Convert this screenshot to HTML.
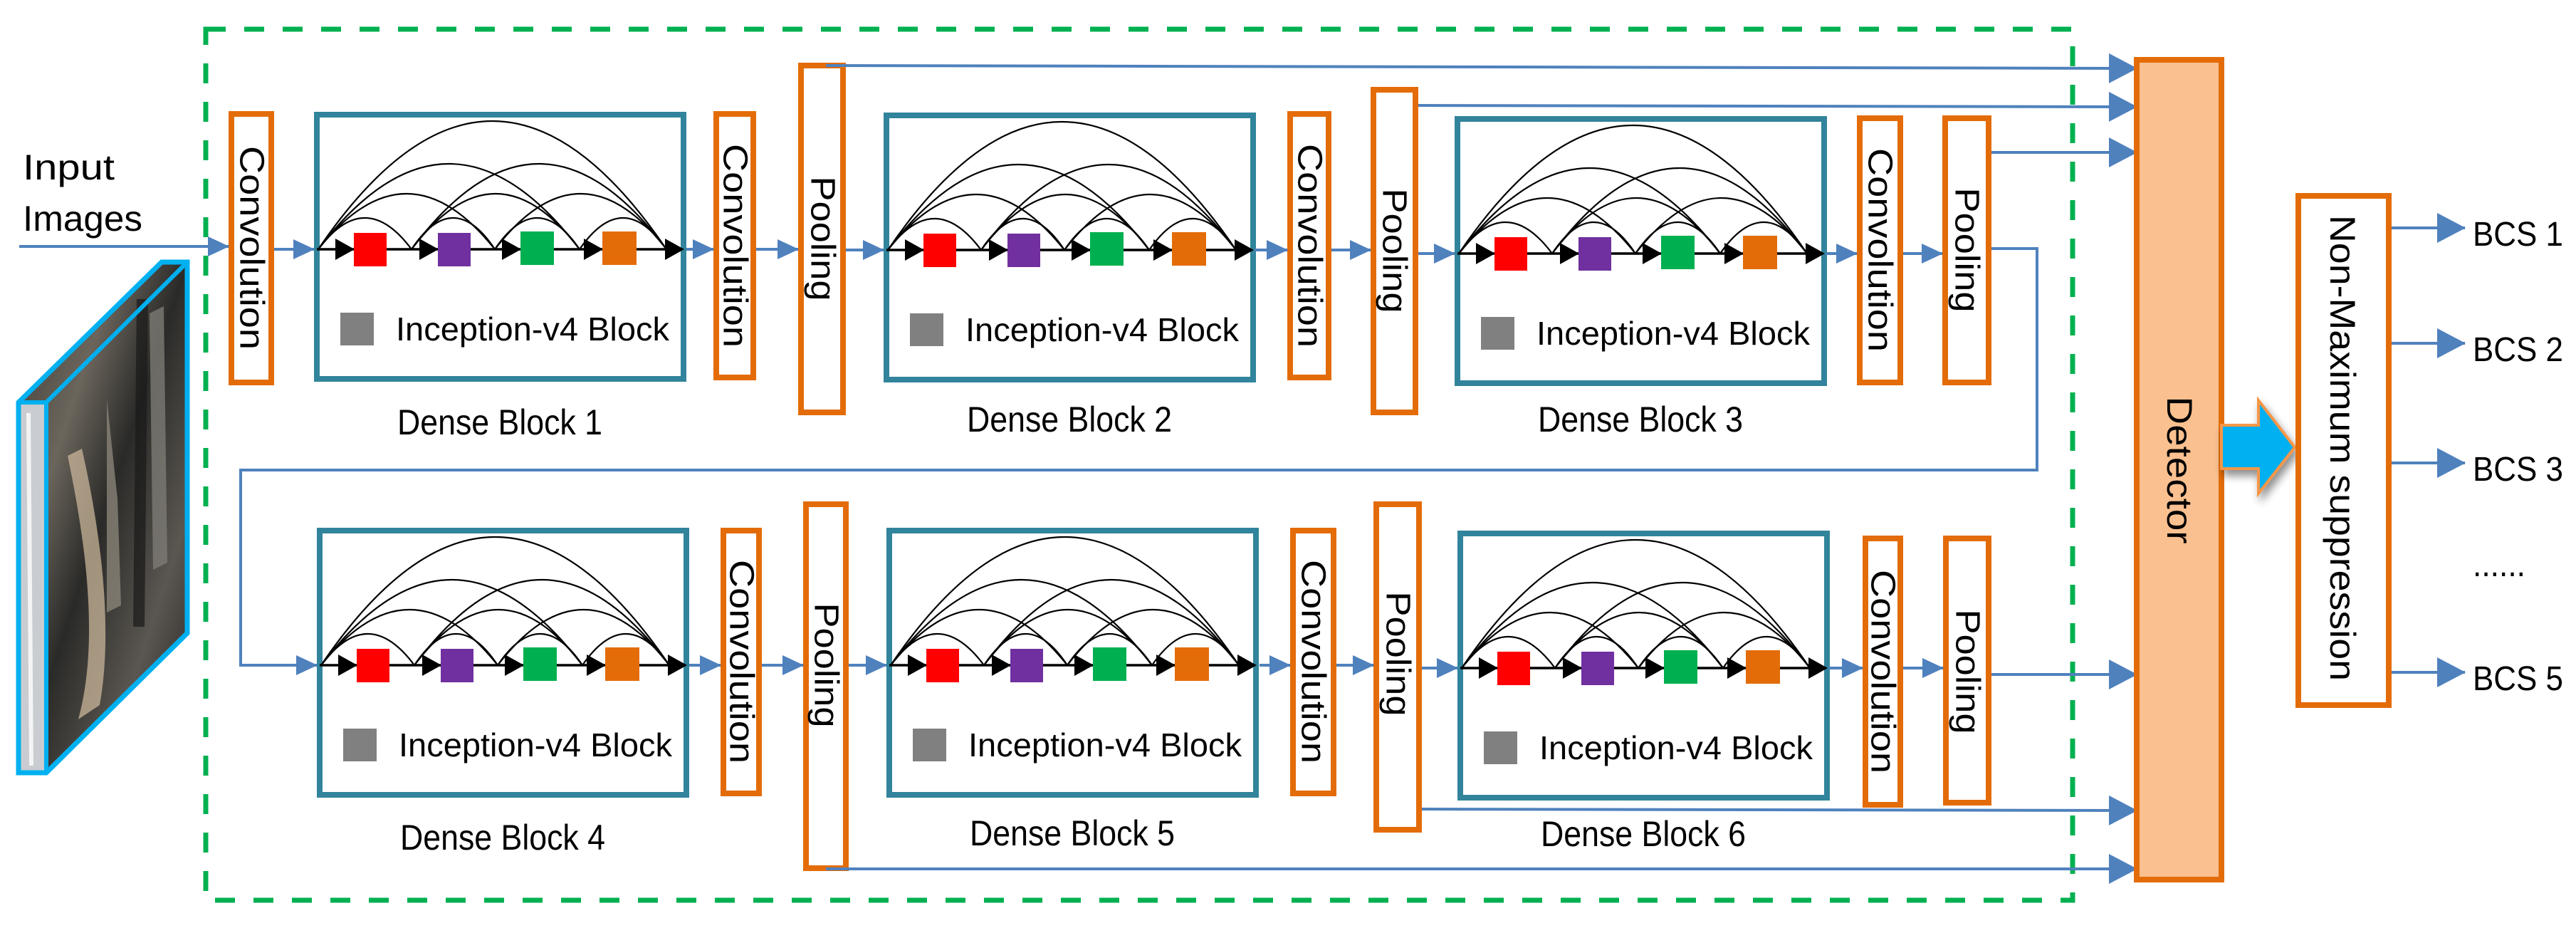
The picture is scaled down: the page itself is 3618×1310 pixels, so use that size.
<!DOCTYPE html>
<html><head><meta charset="utf-8"><style>html,body{margin:0;padding:0;background:#fff}svg{display:block}text{font-family:"Liberation Sans",sans-serif;fill:#000}</style></head>
<body>
<svg width="3618" height="1310" viewBox="0 0 3618 1310" xmlns="http://www.w3.org/2000/svg">
<defs>
<marker id="ba" markerUnits="userSpaceOnUse" markerWidth="30" markerHeight="28" refX="29" refY="14" orient="auto"><path d="M0 0 L30 14 L0 28z" fill="#4F81BD"/></marker>
<marker id="bb" markerUnits="userSpaceOnUse" markerWidth="40" markerHeight="42" refX="39" refY="21" orient="auto"><path d="M0 0 L40 21 L0 42z" fill="#4F81BD"/></marker>
<filter id="sh" x="-30%" y="-30%" width="160%" height="160%"><feGaussianBlur in="SourceAlpha" stdDeviation="6"/><feOffset dx="4" dy="8"/><feComponentTransfer><feFuncA type="linear" slope="0.45"/></feComponentTransfer><feMerge><feMergeNode/><feMergeNode in="SourceGraphic"/></feMerge></filter>
<linearGradient id="img" x1="0" y1="0" x2="1" y2="1"><stop offset="0" stop-color="#3a3a36"/><stop offset="0.3" stop-color="#6b655c"/><stop offset="0.5" stop-color="#2a2a28"/><stop offset="0.75" stop-color="#5a5650"/><stop offset="1" stop-color="#222"/></linearGradient>
<g id="blk">
<rect x="4" y="-189" width="515" height="371" fill="#fff" stroke="#31849B" stroke-width="8"/>
<g fill="none" stroke="#000" stroke-width="2.2">
<path d="M6 0 Q71.5 -88 137 0"/>
<path d="M6 0 Q130 -156 254 0"/>
<path d="M6 0 Q189.5 -240 373 0"/>
<path d="M6 0 Q250.5 -360 495 0"/>
<path d="M137 0 Q195.5 -88 254 0"/>
<path d="M137 0 Q255 -156 373 0"/>
<path d="M137 0 Q316 -240 495 0"/>
<path d="M254 0 Q313.5 -88 373 0"/>
<path d="M254 0 Q374.5 -156 495 0"/>
<path d="M373 0 Q434 -88 495 0"/>
</g>
<line x1="4" y1="0" x2="515" y2="0" stroke="#000" stroke-width="3.5"/>
<g fill="#000">
<path d="M30 -15 L57 0 L30 15z"/><path d="M148 -15 L175 0 L148 15z"/><path d="M264 -15 L291 0 L264 15z"/><path d="M379 -15 L406 0 L379 15z"/><path d="M493 -15 L520 0 L493 15z"/>
</g>
<rect x="56" y="-23" width="46" height="47" fill="#FF0000"/>
<rect x="174" y="-23" width="46" height="47" fill="#7030A0"/>
<rect x="290" y="-25" width="47" height="47" fill="#00B050"/>
<rect x="405" y="-25" width="48" height="47" fill="#E36C09"/>
<rect x="37" y="89" width="47" height="46" fill="#808080"/>
</g>
</defs>

<rect x="289" y="41" width="2622" height="1223" fill="none" stroke="#00B050" stroke-width="7" stroke-dasharray="28 26"/>

<polygon points="26,565 227,368 263,368 263,889 65,1085 26,1085" fill="url(#img)"/>
<path d="M150 560 L150 860 L170 850 L165 700z" fill="#8a8378" opacity="0.8"/>
<path d="M95 640 C120 760 140 900 110 1010 L140 990 C160 880 140 740 115 630z" fill="#c9b59a" opacity="0.75"/>
<path d="M210 440 L215 800 L235 790 L230 430z" fill="#7d7a74" opacity="0.8"/>
<path d="M200 420 L195 880" stroke="#1a1a1a" stroke-width="16" fill="none" opacity="0.7"/>
<polygon points="26,565 65,565 65,1085 26,1085" fill="#c9ccd0"/>
<line x1="40" y1="580" x2="44" y2="1075" stroke="#f4f4f4" stroke-width="6"/>
<polygon points="26,565 227,368 263,368 263,889 65,1085 26,1085" fill="none" stroke="#00B0F0" stroke-width="7" stroke-linejoin="miter"/>
<polyline points="26,565 65,565 260,371" fill="none" stroke="#00B0F0" stroke-width="6"/>
<line x1="65" y1="565" x2="65" y2="1085" stroke="#00B0F0" stroke-width="6"/>

<text x="32" y="252" font-size="50" textLength="129" lengthAdjust="spacingAndGlyphs">Input</text>
<text x="32" y="324" font-size="50" textLength="168" lengthAdjust="spacingAndGlyphs">Images</text>

<use href="#blk" transform="translate(441,350)"/>
<use href="#blk" transform="translate(1241,351)"/>
<use href="#blk" transform="translate(2043,356)"/>
<use href="#blk" transform="translate(445,934)"/>
<use href="#blk" transform="translate(1245,934)"/>
<use href="#blk" transform="translate(2047,938)"/>

<g font-size="46">
<text x="556" y="478" textLength="384" lengthAdjust="spacingAndGlyphs">Inception-v4 Block</text>
<text x="1356" y="479" textLength="384" lengthAdjust="spacingAndGlyphs">Inception-v4 Block</text>
<text x="2158" y="484" textLength="384" lengthAdjust="spacingAndGlyphs">Inception-v4 Block</text>
<text x="560" y="1062" textLength="384" lengthAdjust="spacingAndGlyphs">Inception-v4 Block</text>
<text x="1360" y="1062" textLength="384" lengthAdjust="spacingAndGlyphs">Inception-v4 Block</text>
<text x="2162" y="1066" textLength="384" lengthAdjust="spacingAndGlyphs">Inception-v4 Block</text>
</g>
<g font-size="50" text-anchor="middle">
<text x="702" y="610" textLength="288" lengthAdjust="spacingAndGlyphs">Dense Block 1</text>
<text x="1502" y="606" textLength="288" lengthAdjust="spacingAndGlyphs">Dense Block 2</text>
<text x="2304" y="606" textLength="288" lengthAdjust="spacingAndGlyphs">Dense Block 3</text>
<text x="706" y="1193" textLength="288" lengthAdjust="spacingAndGlyphs">Dense Block 4</text>
<text x="1506" y="1187" textLength="288" lengthAdjust="spacingAndGlyphs">Dense Block 5</text>
<text x="2308" y="1188" textLength="288" lengthAdjust="spacingAndGlyphs">Dense Block 6</text>
</g>

<g fill="#fff" stroke="#E36C09" stroke-width="8">
<rect x="325" y="160" width="56" height="377"/>
<rect x="1006" y="160" width="52" height="370"/>
<rect x="1812" y="160" width="54" height="370"/>
<rect x="2612" y="166" width="57" height="371"/>
<rect x="1016" y="745" width="50" height="369"/>
<rect x="1816" y="745" width="57" height="369"/>
<rect x="2620" y="756" width="49" height="374"/>
<rect x="1125" y="92" width="59" height="487"/>
<rect x="1929" y="126" width="59" height="453"/>
<rect x="2732" y="166" width="61" height="371"/>
<rect x="1132" y="708" width="56" height="511"/>
<rect x="1933" y="708" width="60" height="457"/>
<rect x="2733" y="756" width="60" height="371"/>
</g>
<g font-size="48" text-anchor="middle" dominant-baseline="central">
<text transform="translate(353,348) rotate(90)" textLength="286" lengthAdjust="spacingAndGlyphs">Convolution</text>
<text transform="translate(1032,345) rotate(90)" textLength="286" lengthAdjust="spacingAndGlyphs">Convolution</text>
<text transform="translate(1839,345) rotate(90)" textLength="286" lengthAdjust="spacingAndGlyphs">Convolution</text>
<text transform="translate(2640,351) rotate(90)" textLength="286" lengthAdjust="spacingAndGlyphs">Convolution</text>
<text transform="translate(1041,929) rotate(90)" textLength="286" lengthAdjust="spacingAndGlyphs">Convolution</text>
<text transform="translate(1844,929) rotate(90)" textLength="286" lengthAdjust="spacingAndGlyphs">Convolution</text>
<text transform="translate(2644,943) rotate(90)" textLength="286" lengthAdjust="spacingAndGlyphs">Convolution</text>
<text transform="translate(1155,335) rotate(90)" textLength="175" lengthAdjust="spacingAndGlyphs">Pooling</text>
<text transform="translate(1958,352) rotate(90)" textLength="175" lengthAdjust="spacingAndGlyphs">Pooling</text>
<text transform="translate(2762,351) rotate(90)" textLength="175" lengthAdjust="spacingAndGlyphs">Pooling</text>
<text transform="translate(1160,934) rotate(90)" textLength="175" lengthAdjust="spacingAndGlyphs">Pooling</text>
<text transform="translate(1963,918) rotate(90)" textLength="175" lengthAdjust="spacingAndGlyphs">Pooling</text>
<text transform="translate(2763,943) rotate(90)" textLength="175" lengthAdjust="spacingAndGlyphs">Pooling</text>
</g>

<g fill="none" stroke="#4F81BD" stroke-width="4">
<path d="M27 346 L321 346" marker-end="url(#ba)"/>
<path d="M385 350 L441 350" marker-end="url(#ba)"/>
<path d="M964 350 L1002 350" marker-end="url(#ba)"/>
<path d="M1062 350 L1121 350" marker-end="url(#ba)"/>
<path d="M1188 351 L1241 351" marker-end="url(#ba)"/>
<path d="M1762 351 L1808 351" marker-end="url(#ba)"/>
<path d="M1870 351 L1925 351" marker-end="url(#ba)"/>
<path d="M1992 356 L2043 356" marker-end="url(#ba)"/>
<path d="M2564 356 L2608 356" marker-end="url(#ba)"/>
<path d="M2673 356 L2728 356" marker-end="url(#ba)"/>
<path d="M2797 349 H2861 V660 H338 V934 H445" marker-end="url(#ba)"/>
<path d="M968 934 L1012 934" marker-end="url(#ba)"/>
<path d="M1070 934 L1128 934" marker-end="url(#ba)"/>
<path d="M1192 934 L1245 934" marker-end="url(#ba)"/>
<path d="M1769 934 L1812 934" marker-end="url(#ba)"/>
<path d="M1877 934 L1929 934" marker-end="url(#ba)"/>
<path d="M1997 938 L2047 938" marker-end="url(#ba)"/>
<path d="M2568 938 L2616 938" marker-end="url(#ba)"/>
<path d="M2673 938 L2729 938" marker-end="url(#ba)"/>
<path d="M2797 947 L3001 947" marker-end="url(#bb)"/>
<path d="M1160 92 L3001 96" marker-end="url(#bb)"/>
<path d="M1992 148 L3001 150" marker-end="url(#bb)"/>
<path d="M2797 214 L3001 214" marker-end="url(#bb)"/>
<path d="M1997 1136 L3001 1138" marker-end="url(#bb)"/>
<path d="M1160 1220 L3001 1220" marker-end="url(#bb)"/>
<path d="M3359 320 L3462 320" marker-end="url(#bb)"/>
<path d="M3359 482 L3462 482" marker-end="url(#bb)"/>
<path d="M3359 650 L3462 650" marker-end="url(#bb)"/>
<path d="M3359 944 L3462 944" marker-end="url(#bb)"/>
</g>

<rect x="3001" y="84" width="119" height="1151" fill="#FAC090" stroke="#E36C09" stroke-width="8"/>
<text transform="translate(3061,660) rotate(90)" font-size="50" text-anchor="middle" dominant-baseline="central" textLength="207" lengthAdjust="spacingAndGlyphs">Detector</text>

<polygon points="3120,597 3172,597 3172,562 3223,628 3172,693 3172,658 3120,658" fill="#00B0F0" stroke="#F79646" stroke-width="4" filter="url(#sh)"/>

<rect x="3228" y="275" width="127" height="715" fill="#fff" stroke="#E36C09" stroke-width="8"/>
<text transform="translate(3290,629) rotate(90)" font-size="50" text-anchor="middle" dominant-baseline="central" textLength="654" lengthAdjust="spacingAndGlyphs">Non-Maximum suppression</text>

<g font-size="48">
<text x="3473" y="345" textLength="127" lengthAdjust="spacingAndGlyphs">BCS 1</text>
<text x="3473" y="507" textLength="127" lengthAdjust="spacingAndGlyphs">BCS 2</text>
<text x="3473" y="675" textLength="127" lengthAdjust="spacingAndGlyphs">BCS 3</text>
<text x="3473" y="809" textLength="74" lengthAdjust="spacingAndGlyphs">......</text>
<text x="3473" y="969" textLength="127" lengthAdjust="spacingAndGlyphs">BCS 5</text>
</g>
</svg>
</body></html>
